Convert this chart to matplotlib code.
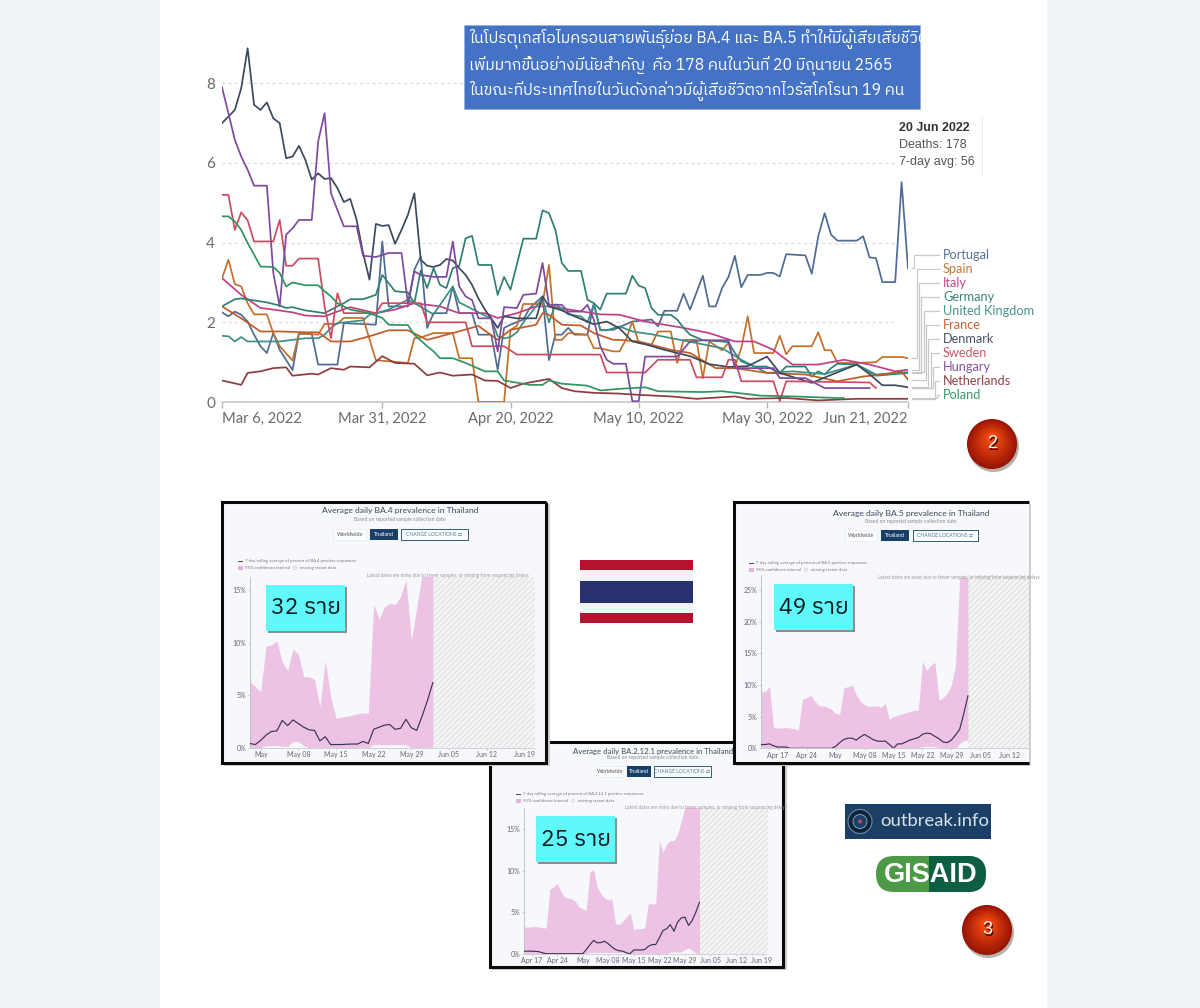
import numpy as np
import matplotlib
matplotlib.use("Agg")
import matplotlib.pyplot as plt
from matplotlib.patches import Rectangle, Circle, FancyBboxPatch

W, H = 1200, 1008
THAI = ["IBM Plex Sans Thai", "FreeSerif", "DejaVu Sans"]
LATIN = ["Lato", "DejaVu Sans"]
plt.rcParams["font.family"] = LATIN
plt.rcParams["hatch.linewidth"] = 0.35

# ---------------- main chart data: deaths per million, days since Mar 6 2022 ----------------
denmark_days = [0,2,3,4,5,6,7,8,9,10,11,12,13,14,15,16,17,18,19,20,21,22,23,24,25,26,27,28,29,30,31,32,33,34,35,36,37,38,39,40,41,42,43,44,46,49,50,51,53,55,58,60,62,64,66,69,73,76,79,82,85,87,92,95,99,101,103,105,107]
denmark_vals = [7.0,7.33,7.88,8.88,7.46,7.33,7.52,7.12,7.0,6.12,6.16,6.43,6.08,5.58,5.74,5.6,5.62,5.37,5.02,5.1,4.57,3.74,3.07,4.47,4.42,4.44,3.97,4.32,4.7,5.24,3.57,3.42,3.39,3.44,3.59,3.55,3.36,3.19,2.94,2.6,2.32,2.1,1.86,2.15,2.1,2.1,2.65,2.4,2.3,2.15,1.95,2.02,1.85,1.52,1.45,1.31,1.15,0.95,0.88,0.9,1.14,0.73,0.48,0.68,0.94,0.7,0.42,0.42,0.37]
portugal_days = [0,1,2,3,4,5,6,7,8,9,11,12,14,15,18,19,24,25,26,29,30,31,32,33,35,36,37,39,40,42,43,44,45,47,48,50,51,52,53,54,55,57,58,59,61,64,67,68,69,71,72,73,75,76,77,78,79,80,81,82,84,85,86,87,88,91,92,93,94,95,96,99,100,101,102,103,105,106,107]
portugal_vals = [2.25,2.15,2.27,2.19,2.02,1.69,1.4,1.23,1.73,1.31,0.8,1.71,1.71,0.94,0.94,1.98,1.94,4.03,2.4,2.4,3.32,3.65,1.86,2.23,2.23,2.9,2.23,2.23,1.69,1.69,0.81,1.86,1.94,2.07,2.36,2.65,1.05,1.69,1.69,1.86,1.69,1.69,2.48,1.81,1.81,2.02,2.07,1.9,2.29,2.29,2.72,2.32,3.17,2.4,2.4,2.86,3.14,3.67,2.88,3.19,3.19,3.24,3.24,3.15,3.71,3.68,3.22,4.16,4.74,4.2,4.05,4.05,4.16,3.63,3.61,3.01,3.01,5.52,3.36]
hungary_days = [0,1,2,3,4,5,7,8,9,10,11,12,14,15,16,17,18,19,21,22,24,26,28,29,30,31,33,35,36,37,38,39,40,42,43,44,46,47,49,50,51,53,54,56,57,58,59,60,61,63,64,65,66,71,73,75,79,80,86,87,91,94,101]
hungary_vals = [7.9,7.25,6.58,6.16,5.83,5.43,5.43,3.24,2.4,4.2,4.36,4.57,4.57,6.54,7.25,5.24,4.82,4.41,4.41,3.67,3.64,3.74,3.74,2.48,3.28,3.19,3.14,3.14,4.03,2.9,2.65,2.56,2.1,2.1,1.27,2.38,2.36,2.69,2.72,3.49,2.44,2.44,2.27,2.27,2.44,2.07,1.4,1.06,0.96,0.96,0.02,0.02,1.14,1.14,1.52,1.55,1.55,0.85,0.85,0.6,0.6,0.35,0.35]
sweden_days = [0,1,2,3,4,5,8,9,10,11,12,15,16,17,18,19,24,25,31,32,38,39,44,46,59,60,66,68,73,74,78,79,80,81,86,87,88,101,102]
sweden_vals = [5.2,5.2,4.32,4.76,4.56,4.03,4.03,4.57,3.42,3.42,3.6,3.6,2.4,1.6,2.73,2.23,2.23,2.48,2.48,2.0,2.0,1.4,1.4,1.19,1.19,0.74,0.74,1.06,1.06,0.62,0.62,1.06,1.06,0.52,0.52,0.02,0.52,0.49,0.35]
spain_days = [0,1,2,3,4,5,7,8,9,11,12,15,16,18,19,22,24,29,30,31,33,36,37,39,40,44,45,46,47,50,51,52,53,54,57,58,59,61,62,63,64,65,67,68,70,71,72,74,75,76,78,79,80,81,82,83,86,87,88,89,92,93,94,95,96,99,102,103,106,107]
spain_vals = [3.1,3.57,2.96,2.9,2.48,2.2,2.2,1.73,1.4,1.04,1.73,1.69,1.96,1.96,2.11,2.11,1.05,0.98,1.6,1.62,1.73,1.73,1.1,1.1,0.0,0.0,1.81,1.91,2.46,2.46,3.44,1.56,1.56,1.73,1.69,1.35,1.35,1.27,1.27,1.56,2.02,1.48,1.44,1.77,1.77,0.98,1.56,1.56,0.6,1.52,1.3,1.48,0.89,1.35,2.15,1.23,1.23,1.66,1.2,1.4,1.4,1.75,1.3,1.3,0.98,0.98,1.0,1.13,1.13,1.1]
germany_days = [0,2,3,7,9,10,11,13,16,18,19,20,22,24,25,26,27,29,30,31,32,33,34,35,36,37,38,39,40,42,43,44,45,47,49,50,51,52,53,54,56,57,58,59,60,63,64,65,66,67,68,70,71,72,73,75,78,79,80,81,83,85,87,88,91,92,93,94,95,96,99,100,102,107]
germany_vals = [2.4,2.58,2.6,2.5,2.42,2.36,2.38,2.3,2.23,2.4,2.48,2.58,2.58,2.69,3.19,2.98,2.78,2.75,2.48,3.3,2.86,3.36,2.94,2.86,3.36,3.42,4.11,4.17,3.44,3.44,2.69,3.14,2.82,4.1,4.1,4.81,4.74,4.32,3.49,3.29,3.29,2.57,2.48,2.32,2.72,2.72,3.17,2.92,2.86,2.36,2.19,2.19,2.07,1.86,1.69,1.55,1.52,1.5,1.23,1.02,0.89,0.89,0.73,0.89,0.89,0.64,0.77,0.69,0.85,0.96,0.94,0.85,0.66,0.73]
uk_days = [0,1,2,3,4,9,13,15,16,17,18,22,23,24,26,29,30,33,36,37,41,42,43,44,45,46,47,48,50,51,52,53,54,56,57,58,59,60,61,62,64,67,74,78,81,85,89,94,99,102,107]
uk_vals = [1.66,1.65,1.52,1.63,1.52,1.52,1.6,1.6,1.69,1.86,1.98,2.05,2.19,2.23,2.32,2.57,2.48,2.2,2.9,2.5,2.17,2.1,1.65,1.6,1.63,1.75,2.0,2.2,2.6,2.0,2.45,2.35,2.2,2.15,2.0,2.45,1.8,1.8,1.85,1.9,1.77,1.7,1.48,1.35,1.06,0.73,0.77,0.7,0.94,0.69,0.75]
france_days = [0,3,6,9,13,15,17,20,23,26,29,32,36,40,43,45,49,50,51,53,56,58,61,62,65,70,73,77,80,85,91,96,100,103,106,107]
france_vals = [2.4,2.1,1.77,1.77,1.75,1.75,1.52,1.52,1.65,1.8,1.8,1.56,1.73,1.91,1.56,1.81,1.94,2.23,2.19,1.94,1.92,1.73,1.56,1.56,1.52,1.31,1.23,0.85,0.85,0.73,0.69,0.52,0.64,0.69,0.77,0.56]
netherlands_days = [0,3,4,6,8,10,11,14,15,17,19,20,23,25,27,30,32,34,36,39,41,43,45,47,51,53,55,58,62,65,70,74,80,82,88,93,99,107]
netherlands_vals = [0.54,0.43,0.73,0.77,0.85,0.87,0.66,0.71,0.69,0.85,0.81,0.89,0.87,1.15,0.98,0.96,0.67,0.74,0.66,0.69,0.54,0.53,0.35,0.46,0.58,0.35,0.27,0.23,0.21,0.18,0.14,0.08,0.14,0.08,0.1,0.04,0.08,0.08]
italy_days = [0,3,6,8,11,13,16,18,20,24,27,30,34,37,41,43,46,49,51,59,62,66,72,76,80,83,86,89,93,97,101,105,107]
italy_vals = [3.11,2.69,2.36,2.32,2.25,2.17,2.15,2.27,2.38,2.23,2.32,2.48,2.4,2.23,2.23,2.11,2.23,2.4,2.4,2.2,2.19,2.02,1.86,1.73,1.52,1.52,1.31,0.94,0.94,1.06,0.94,0.77,0.81]
poland_days = [0,1,2,3,4,5,6,8,9,10,11,13,15,16,17,18,19,20,23,25,26,29,30,32,33,34,36,38,41,43,44,48,50,51,53,57,59,62,66,68,75,78,84,89,96,97]
poland_vals = [4.66,4.66,4.53,4.32,3.99,3.7,3.4,3.39,3.24,2.9,3.0,2.93,2.93,2.78,2.65,2.48,2.4,2.32,2.23,2.11,1.94,1.93,1.69,1.4,1.27,1.1,1.1,0.98,0.77,0.77,0.54,0.43,0.43,0.54,0.46,0.41,0.29,0.33,0.37,0.27,0.25,0.27,0.16,0.14,0.1,0.1]

countries = ["Portugal", "Spain", "Italy", "Germany", "United Kingdom", "France", "Denmark", "Sweden", "Hungary", "Netherlands", "Poland"]
country_colors = ["#4f6a94", "#c2702c", "#c23f86", "#2f7f72", "#3c8f86", "#c25b26", "#3b4a5c", "#cf4a60", "#7d4a9e", "#8e3b3f", "#2f9460"]
country_days = [portugal_days, spain_days, italy_days, germany_days, uk_days, france_days, denmark_days, sweden_days, hungary_days, netherlands_days, poland_days]
country_vals = [portugal_vals, spain_vals, italy_vals, germany_vals, uk_vals, france_vals, denmark_vals, sweden_vals, hungary_vals, netherlands_vals, poland_vals]
main_tick_days = [0, 25, 45, 65, 85, 107]
main_tick_labels = ["Mar 6, 2022", "Mar 31, 2022", "Apr 20, 2022", "May 10, 2022", "May 30, 2022", "Jun 21, 2022"]
main_yticks = [0, 2, 4, 6, 8]

# ---------------- sub-panel data: percent, days since May 1 2022 ----------------
ba4_days = [-2,-1,0,1,2,3,4,5,6,7,8,9,10,11,12,13,14,15,16,17,18,19,20,21,22,23,24,25,26,27,28,29,30,31,32]
ba4_upper = [6.28,5.8,5.33,9.7,9.78,10.16,8.2,7.33,9.37,8.9,6.76,6.76,6.5,3.9,8.3,4.86,2.8,2.9,3.0,3.1,3.25,3.3,3.27,13.65,12.25,13.4,13.75,13.65,14.4,16,10.25,13.3,16.5,16.5,16.5]
ba4_lower = [0,0,0,.2,.2,.2,.15,.1,.6,.6,.2,0,0,0,0,0,0,0,0,0,0,0,0,.3,.3,.3,.3,.3,.3,.3,0,0,0,0,0]
ba4_line = [.4,.3,.7,1.2,1.55,1.6,2.6,2.1,2.65,2.3,1.95,1.7,1.65,.65,1.05,.3,.3,.3,.33,.35,.35,.6,.4,1.75,1.95,2.15,2.2,1.75,1.85,2.7,1.9,1.65,3.0,4.5,6.2]
ba5_days = [-18,-17,-16,-15,-14,-13,-12,-11,-10,-9,-8,-7,-6,-5,-4,-3,-2,-1,0,1,2,3,4,5,6,7,8,9,10,11,12,13,14,15,16,17,18,19,20,21,22,23,24,25,26,27,28,29,30,31,32]
ba5_upper = [8.95,8.95,9.75,3.26,3.2,3.2,3.3,3.2,3.1,2.9,7.8,8,8.4,7.4,6.7,6.7,6.5,6.2,5.5,5.4,9.6,9.7,10,8.4,7.4,6.9,6.6,6.7,6.7,6.5,7.1,4.6,5,5.2,5.4,5.6,5.8,6,6,13.7,12.3,13.1,13.6,7.6,8,8.7,10,13,27,27,27]
ba5_lower = [0,0,0,0,0,0,0,0,0,0,0,0,0,0,0,0,0,0,0,0,0,0,0,0,0,0,0,0,0,0,0,0,0,0,0,0,0,0,0,.3,.3,.3,.3,0,0,0,0,0,.8,1.2,1.3]
ba5_line = [.6,.6,.7,.4,.2,.2,.2,0,0,0,0,0,0,0,0,0,0,0,.3,.9,1.4,1.6,1.6,1.3,1.8,2.2,1.8,1.4,1.15,1.1,1.15,.6,0,.7,.7,1,1.3,1.5,1.7,2.2,2.4,2.3,1.9,1.5,1,.9,1.3,2.1,3,5.5,8.3]
ba212_days = list(range(-16, 33))
ba212_upper = [3.2,3.2,3.2,3.3,3.2,3.1,3.1,7.8,8,8.5,7.5,6.8,6.7,6.6,6.3,5.6,5.4,5.3,9.9,10.1,8,7.2,6.7,6.5,6.6,3.6,3.5,3.9,4.4,4.9,2.9,3,3,3.1,6,6,6,13.6,12.2,13.2,13.6,13.6,14.4,16,17.6,17.6,17.6,17.6,17.6]
ba212_lower = [0]*18 + [.15]*12 + [0]*10 + [.2,.2,.2,.2,.5,.7,.4,.1,0]
ba212_line = [.3,.3,.3,.28,.25,.1,0,0,0,0,0,0,0,0,0,0,0,.5,1.1,1.6,1.3,1.35,1.5,1.2,.8,.5,.35,.3,.1,0,.45,.45,.45,.5,.9,1.1,1.1,1.9,2.8,3,3.5,2.7,3.8,4.3,4.4,3.4,4,5,6.2]

ba4_yticks = [0, 5, 10, 15]
ba5_yticks = [0, 5, 10, 15, 20, 25]
ba212_yticks = [0, 5, 10, 15]
date_days = [-14, -7, 0, 7, 14, 21, 28, 35, 42, 49]
date_labels = ["Apr 17", "Apr 24", "May", "May 08", "May 15", "May 22", "May 29", "Jun 05", "Jun 12", "Jun 19"]

fig = plt.figure(figsize=(W / 100, H / 100), dpi=100, facecolor="#f0f3f7")


def px_axes(x0, y0, x1, y1, z):
    return fig.add_axes([x0 / W, 1 - y1 / H, (x1 - x0) / W, (y1 - y0) / H], zorder=z)


def layer(z):
    a = fig.add_axes([0, 0, 1, 1], zorder=z)
    a.set_xlim(0, W)
    a.set_ylim(H, 0)
    a.axis("off")
    a.patch.set_alpha(0)
    return a


# page
page = layer(0)
page.add_patch(Rectangle((160, 0), 887, H, fc="white", ec="none"))

# ---------------- main line chart ----------------
PX_DAY = (908 - 222) / 107
PX_VAL = (402 - 83.3) / 8
ax = px_axes(222, 30, 908, 402, 2)
ax.set_xlim(0, 107)
ax.set_ylim(0, (402 - 30) / PX_VAL)
ax.patch.set_alpha(0)
for s in ["top", "right", "left"]:
    ax.spines[s].set_visible(False)
ax.spines["bottom"].set_color("#c4c4c4")
ax.spines["bottom"].set_linewidth(1.1)
ax.set_yticks(main_yticks)
ax.tick_params(axis="y", length=0, pad=5, labelsize=11, labelcolor="#6a6a6a")
ax.set_xticks(main_tick_days)
ax.set_xticklabels(main_tick_labels, fontsize=10.6, color="#6a6a6a")
ax.tick_params(axis="x", length=4, width=1, color="#b5b5b5", pad=3)
tl = ax.get_xticklabels()
tl[0].set_ha("left")
tl[-1].set_ha("right")
for v in main_yticks[1:]:
    ax.plot([0, 105], [v, v], color="#dcdcdc", lw=0.9, ls=(0, (2.5, 2.5)), zorder=1)
for name, col, d, v in zip(countries, country_colors, country_days, country_vals):
    ax.plot(d, v, color=col, lw=1.25, zorder=3, solid_joinstyle="round")

# end-of-line labels with elbow connectors
label_ys = [255, 269, 283, 297, 311, 325, 339, 353, 367, 381, 395]
elbows = [914, 916.7, 919, 921.3, 923.7, 926, 928.3, 930.6, 932.8, 935, 937.2]
for name, col, v, ly, ex in zip(countries, country_colors, country_vals, label_ys, elbows):
    end_y = 402 - v[-1] * PX_VAL
    page.plot([939, ex, ex, 912], [ly, ly, end_y, end_y], color="#c9c9c9", lw=0.9, zorder=1)
    page.text(943, ly, name, color=col, fontsize=9.2, va="center", ha="left", alpha=0.95)

# blue banner
top = layer(3)
top.add_patch(Rectangle((464, 25), 456, 84, fc="#4472c4", ec="#8fb0e0", lw=0.5))
banner = ["ในโปรตุเกสโอไมครอนสายพันธุ์ย่อย BA.4 และ BA.5 ทำให้มีผู้เสียเสียชีวิต",
          "เพิ่มมากขึ้นอย่างมีนัยสำคัญ  คือ 178 คนในวันที่ 20 มิถุนายน 2565",
          "ในขณะที่ประเทศไทยในวันดังกล่าวมีผู้เสียชีวิตจากไวรัสโคโรนา 19 คน"]
for t, y in zip(banner, [39, 65, 91]):
    top.text(469, y, t, color="white", fontsize=11.3, va="center", ha="left", family=THAI)

# tooltip
top.plot([982, 982], [117, 176], color="#eeeeee", lw=0.8)
top.text(899, 128, "20 Jun 2022", fontsize=9, fontweight="bold", color="#333333", va="center", family="Liberation Sans")
top.text(899, 145, "Deaths: 178", fontsize=9, color="#555555", va="center", family="Liberation Sans")
top.text(899, 162, "7-day avg: 56", fontsize=9, color="#555555", va="center", family="Liberation Sans")


def ball(a, cx, cy, r, label):
    a.add_patch(Circle((cx + 1.5, cy + 2.5), r + 0.5, fc="#b8b0ac", ec="none"))
    a.add_patch(Circle((cx, cy), r, fc="#8f1404", ec="none"))
    steps = 14
    for i in range(steps):
        f = i / (steps - 1)
        col = np.array([0x9c, 0x16, 0x05]) * (1 - f) + np.array([0xf0, 0x48, 0x10]) * f
        a.add_patch(Circle((cx, cy - 6 * f), r * (1 - 0.78 * f) - 0.6, fc=col / 255, ec="none"))
    a.text(cx + 1, cy + 1, label, color="#2c0a05", fontsize=13, ha="center", va="center", family="Liberation Sans")
    a.text(cx, cy, label, color="#fff3e8", fontsize=13, ha="center", va="center", family="Liberation Sans")


ball(top, 992, 444, 25, "2")
ball(top, 987, 930, 25, "3")


# ---------------- prevalence panels ----------------
def panel(z, box, right_border, axis, ppd, may1, data_end_day, ppv, zero_y, title, title_xy, sub_y,
          buttons, btn_y, legend_xy, note, note_xy, cyan, cyan_text, variant, days, up, lo, ln, yticks, font_t):
    x0, y0, x1, y1 = box
    d = layer(z)
    d.add_patch(Rectangle((x0 + 2, y0 + 2), x1 - x0 + (2 if right_border else 0), y1 - y0 + 1, fc="#cfcfcf", ec="none"))
    d.add_patch(Rectangle((x0, y0), x1 - x0, y1 - y0, fc="#f6f8fb", ec="none"))
    xs = [x1, x0, x0, x1] if not right_border else [x1, x0, x0, x1, x1]
    ys = [y0, y0, y1, y1] if not right_border else [y0, y0, y1, y1, y0]
    d.plot(xs, ys, color="#0a0a0a", lw=2.2, solid_joinstyle="miter", solid_capstyle="butt")
    d.text(title_xy[0], title_xy[1], title, fontsize=font_t, color="#3d4a58", ha="center", va="center")
    d.text(title_xy[0], sub_y, "Based on reported sample collection date", fontsize=3.6, color="#8a8a8a", ha="center", va="center")
    h = 11
    wx, tx, cx = buttons
    d.add_patch(Rectangle((wx[0], btn_y), wx[1] - wx[0], h, fc="#fbfcfd", ec="#e4e8ec", lw=0.4))
    d.text(sum(wx) / 2, btn_y + h / 2, "Worldwide", fontsize=3.9, color="#555555", ha="center", va="center")
    d.add_patch(Rectangle((tx[0], btn_y), tx[1] - tx[0], h, fc="#173f68", ec="none"))
    d.text(sum(tx) / 2, btn_y + h / 2, "Thailand", fontsize=3.9, color="white", ha="center", va="center")
    d.add_patch(Rectangle((cx[0], btn_y), cx[1] - cx[0], h, fc="#fbfcfd", ec="#2f5f78", lw=0.7))
    d.text(sum(cx) / 2, btn_y + h / 2, "CHANGE LOCATIONS ⇄", fontsize=3.6, color="#4a7f95", ha="center", va="center",
           family=["Lato", "DejaVu Sans"])
    lx, ly = legend_xy
    d.plot([lx, lx + 4], [ly, ly], color="#444455", lw=0.7)
    d.text(lx + 7, ly, f"7 day rolling average of percent of {variant} positive sequences", fontsize=3.1, color="#777777", va="center")
    d.add_patch(Rectangle((lx, ly + 5), 4.5, 4, fc="#e6b3de", ec="none"))
    d.text(lx + 7, ly + 7, "95% confidence interval", fontsize=3.1, color="#777777", va="center")
    d.add_patch(Circle((lx + 57, ly + 7), 1.8, fc="#ececec", ec="#cccccc", lw=0.3))
    d.text(lx + 62, ly + 7, "missing recent data", fontsize=3.1, color="#777777", va="center")

    ax0, ay0, ax1 = axis
    a = px_axes(ax0, ay0, ax1, zero_y, z + 0.2)
    a.set_xlim((ax0 - may1) / ppd, (ax1 - may1) / ppd)
    a.set_ylim(0, (zero_y - ay0) / ppv)
    a.patch.set_alpha(0)
    for s in ["top", "right"]:
        a.spines[s].set_visible(False)
    a.spines["left"].set_color("#b8bcc2")
    a.spines["left"].set_linewidth(0.6)
    a.spines["bottom"].set_color("#c9cdd2")
    a.spines["bottom"].set_linewidth(0.6)
    a.fill_between(days, lo, up, color="#edc2e4", lw=0, zorder=2)
    a.plot(days, ln, color="#3a3550", lw=0.85, zorder=3)
    a.add_patch(Rectangle((data_end_day, 0), 80, 100, fc="#f4f4f4", ec="#c9c9c9", hatch="//////", lw=0, zorder=1))
    a.set_yticks(yticks)
    a.set_yticklabels([f"{t}%" for t in yticks])
    a.set_xticks([t for t in date_days if a.get_xlim()[0] + 1 <= t <= a.get_xlim()[1] - 1])
    a.set_xticklabels([l for t, l in zip(date_days, date_labels) if a.get_xlim()[0] + 1 <= t <= a.get_xlim()[1] - 1])
    a.tick_params(axis="both", labelsize=5, labelcolor="#667", length=1.5, width=0.4, color="#aaaaaa", pad=1.2)
    n = layer(z + 0.4)
    n.text(note_xy[0], note_xy[1], note, fontsize=3.35, color="#9a9a9a", ha="left", va="center", clip_on=True,
           clip_path=Rectangle((x0, y0), x1 - x0, y1 - y0, transform=n.transData))
    bx0, by0, bx1, by1 = cyan
    n.add_patch(Rectangle((bx0 + 1.5, by0 + 1.5), bx1 - bx0, by1 - by0, fc="#8a8f90", ec="none"))
    n.add_patch(Rectangle((bx0, by0), bx1 - bx0, by1 - by0, fc="#5ff9fb", ec="none"))
    n.text((bx0 + bx1) / 2, (by0 + by1) / 2 + 0.5, cyan_text, fontsize=16.5, color="#0c1a1e", ha="center", va="center", family=THAI)


NOTE = "Latest dates are noisy due to fewer samples, or missing from sequencing delays"

panel(10, (490, 742, 783, 967), True, (524.3, 807.7, 768), 3.65, 582.7, 32, 8.31, 953.7,
      "Average daily BA.2.12.1 prevalence in Thailand", (653, 751.7), 758,
      ((597, 623), (627, 651), (654, 711)), 766, (516, 794), NOTE, (625, 807), (536, 816, 615, 862), "25 ราย",
      "BA.2.12.1", ba212_days, ba212_upper, ba212_lower, ba212_line, ba212_yticks, 5.6)
panel(20, (222, 502, 546, 763), True, (250, 576.7, 535), 5.38, 260.7, 32, 10.5, 747.7,
      "Average daily BA.4 prevalence in Thailand", (400, 511), 519,
      ((333, 367), (370, 398), (401, 468)), 528.5, (238, 561), NOTE, (367, 576), (266, 585, 345, 631), "32 ราย",
      "BA.4", ba4_days, ba4_upper, ba4_lower, ba4_line, ba4_yticks, 6.1)
panel(30, (734, 502, 1029, 763), False, (761.3, 575, 1029), 4.136, 835.6, 32, 6.33, 748.3,
      "Average daily BA.5 prevalence in Thailand", (911, 513.5), 521,
      ((845, 877), (881, 909), (913, 978)), 530, (749, 563), NOTE, (878, 578), (774, 584, 853, 630), "49 ราย",
      "BA.5", ba5_days, ba5_upper, ba5_lower, ba5_line, ba5_yticks, 6.1)

# ---------------- flag and logos ----------------
logo = layer(40)
for y0, y1, c in [(560, 570, "#b5122f"), (570, 581, "#f2f2f4"), (581, 603, "#28306e"), (603, 613, "#f2f2f4"), (613, 623, "#b5122f")]:
    logo.add_patch(Rectangle((580, y0), 113, y1 - y0, fc=c, ec="none"))

logo.add_patch(Rectangle((845, 804), 146, 35, fc="#1c3f66", ec="none"))
logo.add_patch(Circle((860, 821.5), 12, fc="#0e2238", ec="#6b8ba8", lw=0.8))
logo.add_patch(Circle((860, 821.5), 7, fc="#1c3f66", ec="#8fb3cf", lw=0.6))
logo.add_patch(Circle((860, 821.5), 2, fc="#b64a72", ec="none"))
logo.text(880, 821.5, "outbreak.info", fontsize=13.3, color="#d5e2ee", va="center", ha="left")

pill_l = FancyBboxPatch((894, 856), 74, 36, boxstyle="round,pad=0,rounding_size=18", fc="#4c9a45", ec="none", mutation_aspect=1)
pill_l2 = FancyBboxPatch((876, 856), 110, 36, boxstyle="round,pad=0,rounding_size=18", fc="#4c9a45", ec="none")
logo.add_patch(pill_l2)
pill_r = FancyBboxPatch((876, 856), 110, 36, boxstyle="round,pad=0,rounding_size=18", fc="#0d5f44", ec="none")
logo.add_patch(pill_r)
pill_r.set_clip_path(Rectangle((929, 850), 60, 50, transform=logo.transData))
logo.text(931, 875, "GISAID", fontsize=19.5, fontweight="bold", color="white", ha="center", va="center", family="Liberation Sans")

fig.savefig("out.png", dpi=100, facecolor=fig.get_facecolor())
